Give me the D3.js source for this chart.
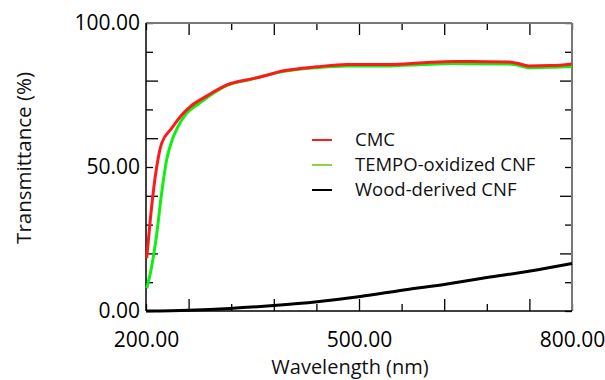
<!DOCTYPE html>
<html>
<head>
<meta charset="utf-8">
<script src="https://cdn.jsdelivr.net/npm/d3@7"></script>
<style>
  body { margin: 0; background: #fff; }
  svg { display: block; font-family: "Open Sans", sans-serif; }
</style>
</head>
<body>
<svg id="chart" width="605" height="380"></svg>
<script>
"use strict";

// wavelength (nm) / transmittance (%)
const cmcWave = [201, 206, 213, 222, 236, 250, 262, 286, 314, 347, 358, 394, 441, 483, 544, 591, 633, 709, 723, 739, 770, 800];
const cmcT    = [18.4, 31.6, 46.6, 58.2, 63.4, 68.0, 70.9, 74.7, 78.5, 80.5, 81.1, 83.4, 84.8, 85.6, 85.6, 86.2, 86.6, 86.5, 86.0, 85.1, 85.2, 85.8];

const tempoWave = [201, 207, 214, 222, 229, 236, 245, 257, 275, 314, 347, 394, 441, 483, 544, 591, 633, 709, 723, 739, 770, 800];
const tempoT    = [7.9, 14.2, 24.7, 40.9, 52.4, 58.8, 64.0, 68.6, 72.1, 78.3, 80.4, 83.2, 84.5, 85.1, 85.1, 85.6, 85.9, 85.8, 85.4, 84.5, 84.6, 84.9];

const woodWave = [200, 260, 318, 380, 441, 502, 563, 624, 680, 741, 800];
const woodT    = [0.0, 0.3, 0.9, 1.9, 3.2, 5.0, 7.3, 9.4, 11.6, 13.9, 16.5];

const seriesNames  = ["CMC", "TEMPO-oxidized CNF", "Wood-derived CNF"];
const lineColors   = ["#ff1a1a", "#11ee11", "#000000"];
const legendColors = ["#ff1a1a", "#8fd14f", "#000000"];

const xLabels = [200, 500, 800];
const yLabels = [0, 50, 100];

const svg = d3.select("#chart");
const margin = {left: 146, right: 33, top: 23, bottom: 69};
const width = 605 - margin.left - margin.right;
const height = 380 - margin.top - margin.bottom;

const x = d3.scaleLinear().domain([200, 800]).range([0, width]);
const y = d3.scaleLinear().domain([0, 100]).range([height, 0]);

const g = svg.append("g").attr("transform", `translate(${margin.left},${margin.top})`);

// tick marks every 60 nm / 10 %, the longer ones on every other step
const xAll = d3.range(200, 801, 60);
const xMajor = xAll.filter((v, i) => i % 2 === 1);
const xShort = xAll.filter((v, i) => i % 2 === 0);
const yAll = d3.range(0, 101, 10);
const yMajor = [20, 40, 60, 80];
const yShort = yAll.filter((v) => yMajor.indexOf(v) < 0);

function tickAxis(axisFn, scale, values, size) {
    return axisFn(scale).tickValues(values).tickSize(size).tickFormat("");
}

const axes = [
    {fn: d3.axisBottom, s: x, t: `translate(0,${height})`},
    {fn: d3.axisTop, s: x, t: "translate(0,0)"},
    {fn: d3.axisLeft, s: y, t: "translate(0,0)"},
    {fn: d3.axisRight, s: y, t: `translate(${width},0)`}
];
axes.forEach((a) => {
    const horiz = a.s === x;
    const major = horiz ? xMajor : yMajor;
    const minor = horiz ? xShort : yShort;
    g.append("g").attr("transform", a.t).call(tickAxis(a.fn, a.s, major, -12));
    g.append("g").attr("transform", a.t).call(tickAxis(a.fn, a.s, minor, -7));
});
g.selectAll(".domain").remove();
g.selectAll(".tick line").attr("stroke", "#000").attr("stroke-width", 1.3);

// labels
g.append("g").attr("transform", `translate(0,${height})`)
    .call(d3.axisBottom(x).tickValues(xLabels).tickSize(0).tickPadding(21).tickFormat(d3.format(".2f")))
    .call((s) => s.select(".domain").remove())
    .selectAll("text").attr("font-size", 21).attr("font-family", "Open Sans").attr("fill", "#000");

g.append("g")
    .call(d3.axisLeft(y).tickValues(yLabels).tickSize(0).tickPadding(6).tickFormat(d3.format(".2f")))
    .call((s) => s.select(".domain").remove())
    .selectAll("text").attr("font-size", 21).attr("font-family", "Open Sans").attr("fill", "#000");

// frame
g.append("line").attr("x1", 0).attr("x2", width).attr("y1", 0).attr("y2", 0).attr("stroke", "#777").attr("stroke-width", 2);
g.append("line").attr("x1", width).attr("x2", width).attr("y1", 0).attr("y2", height).attr("stroke", "#777").attr("stroke-width", 2);
g.append("line").attr("x1", 0).attr("x2", 0).attr("y1", 0).attr("y2", height).attr("stroke", "#000").attr("stroke-width", 1.5);
g.append("line").attr("x1", 0).attr("x2", width).attr("y1", height).attr("y2", height).attr("stroke", "#000").attr("stroke-width", 1.5);

// curves
const line = d3.line().x((d) => x(d[0])).y((d) => y(d[1])).curve(d3.curveMonotoneX);
const series = [
    d3.zip(cmcWave, cmcT),
    d3.zip(tempoWave, tempoT),
    d3.zip(woodWave, woodT)
];
[2, 1, 0].forEach((i) => {
    g.append("path")
        .datum(series[i])
        .attr("d", line)
        .attr("fill", "none")
        .attr("stroke", lineColors[i])
        .attr("stroke-width", 3)
        .attr("stroke-linejoin", "round");
});

// legend
const legend = svg.append("g").attr("transform", "translate(312,140)");
seriesNames.forEach((name, i) => {
    const row = legend.append("g").attr("transform", `translate(0,${i * 25})`);
    row.append("line").attr("x1", 0).attr("x2", 20).attr("y1", 0).attr("y2", 0)
        .attr("stroke", legendColors[i]).attr("stroke-width", 2);
    row.append("text").attr("x", 43).attr("y", 0).attr("dy", "0.35em")
        .attr("font-size", 18.5).attr("fill", "#111").text(name);
});

// axis titles
svg.append("text")
    .attr("x", 350).attr("y", 374)
    .attr("text-anchor", "middle").attr("font-size", 20).attr("fill", "#111")
    .text("Wavelength (nm)");
svg.append("text")
    .attr("transform", "translate(31,158) rotate(-90)")
    .attr("text-anchor", "middle").attr("font-size", 20.5).attr("fill", "#111")
    .text("Transmittance (%)");
</script>
</body>
</html>
